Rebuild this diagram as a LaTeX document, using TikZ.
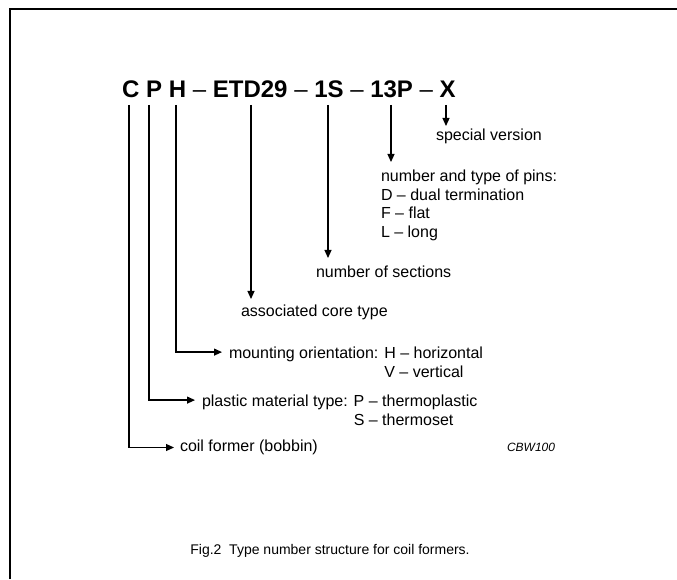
\documentclass[tikz,border=0pt]{standalone}
\usepackage{fontspec}
\setmainfont{Liberation Sans}
\usetikzlibrary{arrows.meta}
\begin{document}
\begin{tikzpicture}[x=1pt,y=1pt,
  lbl/.style={inner sep=0pt, outer sep=0pt, font=\fontsize{16}{18.7}\selectfont, align=left},
  conn/.style={line width=1.2pt, -{Triangle[length=8pt,width=7pt]}},
  titlefont/.style={inner sep=0pt, font=\bfseries\fontsize{24}{27}\selectfont}
]
\useasboundingbox (0,0) rectangle (677,579);
\draw[line width=2pt] (10,0) -- (10,570) -- (677,570);

% type number
\node[titlefont, anchor=base west] (title) at (122,481)
  {C P H \textmd{–} ETD29 \textmd{–} 1S \textmd{–} 13P \textmd{–} X};

\coordinate (tC) at (129,474);
\coordinate (tP) at (149,474);
\coordinate (tH) at (176,474);
\coordinate (tE) at (251,474);
\coordinate (tS) at (328,474);
\coordinate (tN) at (391,474);
\coordinate (tX) at (446,474);

% labels
\node[lbl, anchor=north west] (spec) at (436,450) {special version};
\node[lbl, anchor=north west] (pins) at (381,409)
  {number and type of pins:\\D – dual termination\\F – flat\\L – long};
\node[lbl, anchor=north west] (sect) at (316,313) {number of sections};
\node[lbl, anchor=north west] (assoc) at (241,274) {associated core type};
\node[lbl, anchor=mid west, text depth=0pt] (mount) at (229,223)
  {mounting orientation: \begin{tabular}[t]{@{}l@{}}H – horizontal\\V – vertical\end{tabular}};
\node[lbl, anchor=mid west, text depth=0pt] (plast) at (202,175)
  {plastic material type: \begin{tabular}[t]{@{}l@{}}P – thermoplastic\\S – thermoset\end{tabular}};
\node[lbl, anchor=mid west] (coil) at (180,130) {coil former (bobbin)};
\node[lbl, anchor=mid west, font=\itshape\fontsize{12}{14}\selectfont] (code) at (507,130) {CBW100};

% connectors
\draw[conn, shorten >=3pt] (tX) -- (tX |- spec.north);
\draw[conn, shorten >=8pt] (tN) -- (tN |- pins.north);
\draw[conn, shorten >=8pt] (tS) -- (tS |- sect.north);
\draw[conn, shorten >=6pt] (tE) -- (tE |- assoc.north);
\draw[conn, shorten >=7pt] (tH) |- (mount.west);
\draw[conn, shorten >=7pt] (tP) |- (plast.west);
\draw[conn, shorten >=6pt] (tC) |- (coil.west);

% caption
\node[lbl, anchor=base, font=\fontsize{14}{16}\selectfont] (cap) at (330,25) {Fig.2\ \ Type number structure for coil formers.};
\end{tikzpicture}
\end{document}
